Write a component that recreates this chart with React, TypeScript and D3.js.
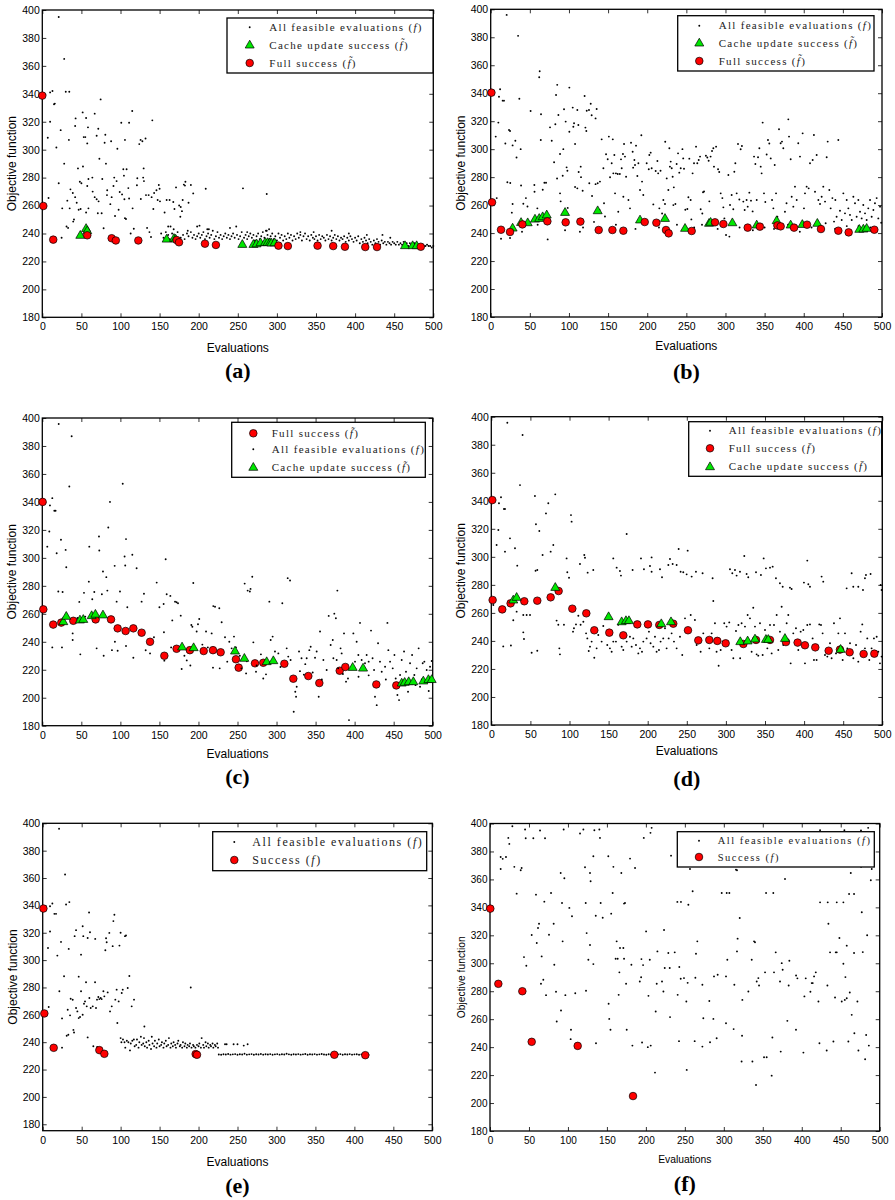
import React, { useEffect, useRef } from 'react';
import * as d3 from 'd3';

type Pt = [number, number];

const xTicks = [0, 50, 100, 150, 200, 250, 300, 350, 400, 450, 500];
const yTicks = [180, 200, 220, 240, 260, 280, 300, 320, 340, 360, 380, 400];

// ---- panel (a) ----
const aDots: Pt[] = [
  [21,395],[28,365],[30,341.5],[34.5,341.5],[10,341],[13,342],[15,332.5],[16,333],[10,320],[7,308.5],[18,301.6],[23.5,314],[34,307],[28,290],[21,276],[8,265.4],[25.5,258],[31,245],[33,244],[35,258],[32,263.5],[36,271.6],[39,269],[40.5,250],[39.5,248.5],[24.7,237],[42,317],[42.6,322.4],[45.6,286.6],[48,277],[50,276],[42,266],[44,262],[46.5,257],[49,257.5],[51.6,326.7],[53,309],[55,309],[56,322.7],[58.4,316],[57.5,304.5],[52,288],[57.5,274],[59,279],[59,258],[56,255],[67,325.8],[69.5,310],[71.6,315],[64,280],[64.4,270],[67,266],[69.5,264.5],[72,263],[71,254.5],[74.6,336],[73,293.5],[76.7,279],[75.9,254.5],[78.4,243.7],[80.6,310.7],[79.7,305],[81.4,290],[88,306],[83,271],[82.7,267.5],[87,261],[88.7,266],[91,274],[92,280],[95,277.5],[93,252.5],[96,300.7],[97.6,257],[99,269.7],[101,319.3],[102,268],[103.6,286],[104.4,281.4],[105.7,307],[107.8,286],[105,264.5],[105.7,251],[107,250.4],[111,319.3],[110,272.5],[111,265],[115,327.7],[115.5,258],[113,240],[117,243.4],[121.5,279.5],[121,274.5],[124,304],[125.7,307],[128,306],[126,264.7],[129.6,286.6],[129,280],[130,277.5],[132,308],[132.6,267.5],[136,267.5],[134,244],[137,241],[139,237.5],[140.7,321],[139.8,266],[142,257.5],[143,269],[146,271],[149,274.7],[150,272],[147.5,264],[150.5,263],[156.4,255],[159,264],[161,245],[162.8,264],[167.5,262.5],[171,273],[169,257.5],[175,260],[177,259],[178.6,256],[176.5,252],[179.5,264],[181,275],[183,277],[182.4,274.3],[187,262],[190,274.7],[193,268.7],[209,272],[201,245.6],[248,245],[256.6,272.3],[287,268.3],
  [152,240],[155,237],[158,241],[161,239],[163,236],[166,240],[170,238],[173,241],[177,237],[180,239],[182,236],[185,240],[187,238],[190,241],[192,237],[194,239],[196,236],[198,238],[200,240],[202,237],[204,239],[206,241],[208,236],[210,238],[212,240],[214,237],[216,239],[218,242],[220,236],[222,238],[224,241],[226,237],[228,239],[230,236],[232,238],[234,240],[236,237],[238,239],[240,236],[242,238],[244,240],[246,237],[249,239],[251,236],[253,238],[255,241],[258,237],[260,239],[262,236],[264,238],[266,240],[268,237],[270,239],[272,235],[274,238],[276,240],[278,236],[280,238],[282,241],[284,237],[286,242],[288,239],[290,236],[292,238],[294,240],[296,236],[298,238],[300,235],[302,240],[304,237],[306,239],[308,235],[310,238],[312,236],[314,240],[316,237],[318,239],[320,235],[322,238],[324,236],[326,240],[328,237],[330,239],[332,235],[334,238],[336,240],[338,236],[340,238],[342,235],[344,239],[346,237],[348,236],[350,238],[352,235],[354,239],[356,236],[358,238],[360,237],[362,235],[364,239],[366,236],[368,238],[370,235],[372,237],[374,239],[376,236],[378,238],[380,235],[382,237],[384,236],[386,238],[388,234],[390,237],[392,235],[394,238],[396,236],[398,234],[400,237],[402,235],[404,238],[406,233],[408,236],[410,234],[412,237],[414,235],[416,233],[418,236],[420,234],[422,232],[424,235],[426,233],[428,236],[430,234],[432,232],[434,235],[436,233],[438,234],[440,232],[442,234],[444,233],[446,232],[448,234],[450,233],[452,232],[454,234],[456,232],[458,233],[460,232],[462,234],[464,232],[466,233],[468,231],[470,233],[472,232],[474,231],[476,233],[478,232],[480,231],[482,232],[484,231],[486,232],[488,231],[490,231],[492,232],[494,231],[496,231],[498,230],[500,231],
  [164,245],[168,243],[186,242],[198,245],[211,243],[213,243],[240,244],[262,241],[287,242],[290,243],[330,241],[347,241],[370,242],[392,240],[415,239],[435,239],[445,237]
];
const aCache: Pt[] = [[48.6,238.7],[56,243.6],[57.5,242],[159,236],[168.4,236.5],[170.5,236],[255.8,232.2],[270,232.2],[274,232.6],[279,233.4],[285,233.6],[288,233.5],[291,233.4],[293,233.2],[297,233.4],[463.8,231.3],[473.6,231.3],[478.7,231.3]];
const aFull: Pt[] = [[0,338.7],[1.3,259.7],[14,235.6],[57.5,238.7],[88.7,236.6],[94,235],[122.8,235],[171.8,235.3],[174.8,233.7],[208,232.7],[222,231.8],[302,231.3],[314,231],[352,231.3],[372,231],[387,230.5],[413,230.3],[428,230.3],[484,230.5]];

// ---- panel (b) ----
const bDots: Pt[] = [
  [20.4,396],[35,381],[12,342.8],[10.6,337.5],[15.3,334.7],[17,334.7],[36.6,336],[9.8,319],[6.4,309],[18.7,304],[23.4,313.7],[24.7,313],[31.5,306],[28,302.7],[33,294],[38.3,300],[38.8,274],[21.3,276.3],[25,275.8],[7.7,265],[27,254.6],[28,260.8],[13.2,236],[24.7,236.5],[41.7,261],[45,265],[47,259],[51,327.3],[56,269.6],[55.8,274.4],[59.6,257.7],[62.6,355.7],[62,351.4],[64.3,325],[64,306.6],[68.6,276],[70.7,276],[66.5,271],[72.8,235.5],[75.8,315.6],[78,306],[81,290.6],[82.6,317.8],[83.5,338.7],[85,346],[86.5,324.4],[88.6,296.5],[84.8,279],[88.6,268.4],[89.4,262.7],[92,281],[93.7,328.5],[92.8,300],[95.8,319.7],[97,287],[98,284.6],[95,242],[98.4,258],[100.5,344],[100.5,312.5],[104.8,329.7],[107.8,303.7],[106.5,318.5],[105.6,316],[110.7,328],[112,317.3],[107.8,273],[110.7,272],[115,287.5],[112.4,283.7],[115.4,280],[117.5,270.3],[114,241],[120,338],[121,315.4],[122.2,313],[122.7,327.5],[125.6,328],[127.8,332.5],[129,324.2],[126,275.6],[129.5,266.5],[134,322],[135.4,328.7],[134,275],[136.7,275.6],[139,256.5],[139.6,276.8],[141.8,307],[144,286.3],[144.8,261.3],[146,251.9],[147.4,296.4],[149.5,292.8],[151,309],[152.5,279.9],[154.6,289.9],[156,307],[156.7,282.7],[160,282.7],[158,295.8],[158.9,268.4],[162.3,282.2],[163,255.3],[165,282.2],[166.5,292.7],[167.4,286.3],[169,296.5],[169.5,266],[170.4,303.7],[171.6,294.7],[173,280.3],[176,263.6],[178,257.7],[179.3,304.6],[181.4,298.2],[182,286.8],[183.6,292.3],[185.7,302.5],[184.4,288.7],[187.4,280.8],[188.7,289.9],[190.8,270.8],[192.5,310],[193.4,276.8],[195,267.2],[199.3,289.9],[202.7,295.8],[204.4,297.5],[202,285.6],[205.7,286.3],[207.8,260.5],[210.8,284.4],[213,291.5],[214,282.7],[215.5,257.7],[217,284.6],[219,254],[220.6,263.6],[223,305.3],[222.7,260.8],[224.9,279.1],[227,270.8],[228.3,300.6],[229,287.5],[230,291.1],[231.3,286.3],[232.5,280.3],[233.4,260],[234,272.7],[236,260.8],[237.6,289.4],[239.4,297],[241,283.2],[242.8,286.3],[245,300],[246,293.4],[247,286],[248.7,256.7],[251.3,257.2],[252.6,265.6],[253.8,293.2],[255.5,263.6],[256.4,249.8],[258,282.7],[259.8,289.9],[262.4,301.8],[264,289.9],[265.8,292.3],[267.5,294.7],[268.3,257],[270.4,254],[271.3,269.2],[272.6,269.7],[275,295.3],[276.8,294],[278.5,291.7],[279.4,262.7],[281,294.7],[282.8,298.7],[284.5,300.6],[285.3,287.5],[288,301.8],[290.5,285.6],[292,283.7],[293.9,268.4],[296,265],[297.3,258.4],[298.6,250.5],[300.7,238.6],[303.7,281.5],[305.8,260.1],[307.9,267.2],[310,257],[311.3,283.9],[312.6,289.9],[314.3,268.4],[316,303.7],[317.7,264],[319.4,299.9],[321,302.3],[322.8,262.5],[324.5,256.5],[327,263.6],[328.4,258.9],[330.5,268.9],[332.6,263.2],[334.7,255.5],[336.5,294.7],[338.2,289.4],[339.9,263.6],[341.6,294.2],[343.3,300.6],[345,287.5],[346.2,282.7],[347.5,319],[349.2,268.4],[350.9,262.2],[352.6,296.2],[354.3,306.5],[356,304],[357.8,293.4],[359.5,263.6],[361.2,257.7],[362.9,288.7],[364.6,268.4],[366.3,251.7],[368.4,314.2],[370.5,304.2],[372.2,305.4],[373.9,300.6],[376,255.3],[378,261.3],[380.3,321.3],[381.2,309],[383.3,292.8],[384.6,266],[386.7,258.9],[388.8,273.2],[391,263.6],[393,304.2],[395.2,294.7],[398.6,311.3],[400.3,257.7],[401.6,268.4],[403.7,273.2],[406.3,272],[408,289.9],[411.4,292.3],[413,310.1],[414.4,269.6],[416.5,295.8],[418.7,263.6],[420.8,260.8],[422.9,266],[425,273.2],[427.2,262.5],[429.3,294.2],[430.6,305.4],[432.7,270.8],[434.4,257.7],[436.6,265],[438.7,248.2],[440.4,263.6],[442,251.7],[444.2,306.5],[446.3,256],[448.5,249.3],[450.6,268.4],[452.7,254.1],[454.9,263.6],[457,257.7],[459.1,253],[461.3,249.3],[463.4,266],[465.5,261.3],[467.6,251.7],[469.8,263.6],[471.9,255.3],[474,250.5],[476.1,260.1],[478.3,254.1],[480.4,249.3],[482.5,257.7],[484.7,263.6],[486.8,251.7],[489,256.5],[491,261.3],[493.2,265],[495.3,250.5],[497.5,258.9],[499,247.4],
  [40,241],[60,246],[118,244],[132,248],[160,246],[185,243],[215,244],[238,246],[260,244],[270,246],[290,243],[305,237.5],[318,244],[335,242],[350,244],[362,243],[380,246],[395,241],[410,244],[428,247],[440,243],[455,245],[470,245],[485,244]
];
const bCache: Pt[] = [[28,243.6],[38.8,247.6],[47.3,247.4],[56.6,250],[62,250.5],[66.4,251.7],[71.6,253],[95,254.8],[136.7,256],[190.8,249.4],[222.7,250.5],[248.3,243.4],[279,247],[281,247.7],[308.8,247.4],[339.9,245.8],[365.4,248.9],[383.3,245.8],[398.2,246.2],[417.4,247],[471,242.7],[476.2,242.9],[480.4,243.4]];
const bFull: Pt[] = [[0.9,340.4],[1.7,262],[13.2,242.4],[24.7,240.8],[40.5,246.2],[72.4,248.4],[95.8,247.7],[114.6,248.2],[138,242.2],[155.5,242.2],[169.5,241.7],[196.8,247.9],[211.7,247.4],[224,242.2],[227.4,239.8],[256.8,241.5],[286.6,247.7],[297.3,246.5],[328.4,243.9],[344,244.6],[366.3,245.5],[370.5,244.8],[387.6,243.9],[404.2,246],[422,242.9],[444.2,241.7],[457.4,240.5],[490.2,242.4]];

// ---- panel (c) ----
const cDots: Pt[] = [
  [21,395.7],[37.6,386.9],[34.6,351],[12.8,342.7],[9.8,337.5],[15.4,333.7],[17,333.7],[86.7,340],[9,318.9],[23.9,312.9],[72.6,315.3],[29.9,305.7],[73,305.3],[60.2,308],[6.4,308],[18.4,303.3],[30.7,293.3],[92.7,294.3],[84.5,321.7],[103,353],[107.2,313.4],[105.4,301],[106.2,294.5],[115.3,302.2],[120.8,292.6],[77.7,290.2],[82,286.2],[59.6,283],[20.5,276],[26,275.6],[66.6,275.6],[76.3,274],[83.3,276.6],[53.4,275],[47.4,268.5],[64,270.4],[95.2,268.7],[99.5,276],[108.9,264.7],[127.2,268.7],[130.2,274.3],[146.5,282.3],[150,264.7],[155.4,267],[158,299],[159.3,274],[164,272.8],[166.5,255.3],[170,268.7],[172,268.3],[173.8,267.5],[177.3,258.7],[193.4,282],[190.9,252],[192.2,250.8],[199.4,252.5],[201,256.3],[197.7,247.3],[209.7,247.3],[216.9,246],[219,265.5],[221.2,265],[226.7,264],[229.7,254],[234,243.2],[239.5,240],[245.5,243.7],[242.5,235.3],[259.2,281.6],[263,276.6],[265.8,276],[266.7,277.8],[268.9,286.5],[270.3,239.6],[273.7,218.6],[283,213.8],[286.5,216.7],[290.8,268.7],[292.5,241.3],[295,243.7],[298,233],[302.3,231.7],[307.4,267.5],[313,235.3],[314.3,285.5],[317.3,283.8],[315,229.4],[318,227],[322,190],[324,204.3],[325,200.7],[325.8,207.9],[328.8,233],[332,228.2],[335,216.5],[336.8,224],[338.6,228.2],[342,234],[343.7,236.5],[346.3,218],[349.3,228.6],[351.4,233],[354,200.7],[355.7,247.3],[360,227],[364.2,219.8],[366.8,258.5],[369.3,237.7],[372,241.3],[374,260.1],[376,256.8],[377.9,276.6],[372.8,228.2],[377,227],[379,221],[382,235.3],[383.4,231.7],[386.4,246],[389,211.5],[391.5,213.8],[392.8,184],[395,221],[398.4,246],[400.5,225.8],[402.6,240],[404.8,230.5],[406.9,253.5],[409,227],[413.3,224.6],[415.4,230.5],[418,225.8],[421,248],[423,228.2],[424.9,219.8],[426.1,200.7],[428.3,194.7],[430,239],[432.5,225.8],[434.7,218.6],[439,222.2],[442,253.5],[443.2,234],[445.4,225.8],[448.8,221],[451,230.5],[452.6,213.8],[454.8,201.9],[456.9,198.3],[458.2,216.2],[460.3,227],[463.3,233],[465.8,218.6],[468.4,204.3],[471,224.6],[473.6,230.5],[476.5,216.2],[479.5,221],[482,235.3],[483.8,207.9],[487.2,224.6],[489.3,225.8],[492.3,219.8],[494.9,204.8],[496.6,222.2],[498.7,226.3],
  [12.8,236],[25.2,236],[48.7,231],[38.9,241.3],[38.9,246],[69.6,235.3],[78.6,230],[89.2,234],[96.5,233.6],[93,240],[116.6,228.6],[107.2,237],[138,231.7],[132.4,233.9],[143,243.2],[155.8,246.8],[156.3,226.5],[178.5,220.5],[185,226.7],[189.6,223],[218.6,221.5],[227.2,221],[236.9,225.8],[255,221],[261,217.4],[274.5,223],
  [45,257],[55,258],[165,236],[182,230],[205,238],[212,236],[248,236],[253,230],[262,226],[280,231],[305,222],[330,219],[358,213],[385,217],[405,215],[418,216],[440,213],[462,209],[478,209],[486,213]
];
const cCache: Pt[] = [[26.9,254.4],[30.7,258.2],[48.2,255.6],[52.5,256],[63.2,258.7],[68,259.7],[77.7,259.2],[179,236.3],[193.8,235.8],[246.8,233.4],[258.8,228.2],[287.4,225.8],[295.9,226.5],[397.5,221.7],[410.8,221.2],[460.3,210.5],[464.1,211],[469.3,211.5],[475.2,211.5],[488,212],[494.5,213],[498.7,213]];
const cFull: Pt[] = [[0.4,340],[1.3,263.2],[14,252.3],[24.3,253.7],[39.7,255],[68.3,256],[88,256],[96.5,249.6],[106.7,247.7],[116.6,249.6],[127.2,246.5],[138,240],[156.3,230],[172,235],[189,234],[206.7,233.4],[218.6,234],[228.4,232.5],[248,227.5],[251.5,221.5],[272.4,224.6],[283,225],[310,224.3],[321.5,213.6],[340.7,215.5],[354.8,210.5],[380.9,219.3],[388.1,222],[427.8,209.5],[453.4,208.8]];

// ---- panel (d) ----
const dDots: Pt[] = [
  [20.5,395.7],[40,386.9],[36.7,351.2],[55.8,343.4],[12.4,342.5],[9.8,338.2],[16.2,334.1],[17.5,334.1],[81.8,344.6],[72.9,338.2],[69.9,331],[9,319.1],[57.1,323.2],[61.4,318.4],[23.9,313.2],[79.3,308.4],[30.3,306.1],[75.9,303.7],[6.8,308.4],[17.5,303.7],[33.2,293.7],[65.6,301.3],[101.9,329.8],[102.7,325.1],[173.1,316.3],[96.3,298.9],[118.9,301.3],[119.8,299.4],[113.4,294.9],[156,298.9],[191.4,298.9],[205,299.6],[228.5,298.5],[239.6,305.6],[251.1,304.4],[323.5,300.6],[348.3,298.9],[404.1,297.3],[58.8,290.6],[56.6,290.1],[97.2,289],[99.4,285.1],[123.2,288.7],[130.4,290.6],[160.3,292.3],[164.5,289.9],[165.8,286.6],[180.7,290.6],[195.2,291.1],[202.9,293.5],[205,289.4],[215.7,291.1],[218.3,285.4],[226.4,294.2],[231.9,294.9],[237,294.2],[242.1,289.4],[245.5,289],[249.8,287.5],[256.2,285.9],[261.7,289.4],[270.2,288.3],[283,284.7],[305.2,291.1],[308.2,288.3],[311.6,290.6],[313.7,286.6],[318,289.4],[326.5,287.7],[328.6,285.4],[338.5,289],[344.8,287],[351.2,291.8],[356.4,292.3],[359.8,293],[364,284.7],[369.1,281.1],[372.6,278.7],[381.9,278],[384,277],[399.8,281.6],[405.4,280.4],[407.5,278.7],[422.4,285.9],[424.5,282.3],[454.4,277.5],[460.8,288.3],[462.9,278.7],[469.3,278.7],[477.8,284.7],[479.1,287],[485,287.7],[475.3,276.3],[497.9,279.9],[499.1,276.3],
  [2.6,265.6],[15.3,236.1],[25.1,236.7],[28.1,254.7],[32.4,260.9],[40.9,258.5],[40.9,246.1],[41.8,241.4],[45.2,258.5],[49.5,258.5],[51.6,231.6],[58.8,233],[83.5,254.5],[85.7,251.5],[87.8,230.4],[87,234.7],[92.9,251.5],[104.5,246.6],[105.7,249],[108.3,251.8],[111.3,258],[114.2,251.5],[117.7,253.7],[121.2,245.4],[122.8,241.8],[124.6,232.8],[126.2,235.9],[128.3,239.5],[131.7,228],[134.7,234.7],[136.8,244.2],[141.1,239.5],[143.2,250.6],[146.6,256.1],[148.3,237.1],[151.7,234.7],[153.9,232.3],[156,239.5],[159.4,239.5],[162.4,251.5],[166.7,235.9],[168.8,233.5],[173.1,239.5],[177.3,243],[179.5,235.9],[181.6,241.8],[185,237.1],[188,231.1],[190.1,234.7],[192.7,232.3],[194.4,239.5],[198.6,241.8],[201.6,246.6],[203.7,238.3],[207.2,235.9],[209.3,243],[211.4,232.3],[214.4,233.5],[216.5,239.5],[219.9,241.8],[222.1,249],[224.2,234.7],[226.8,241.8],[230.6,245.4],[233.6,239.5],[237,234.7],[241.3,243],[244.2,229.9],[247.7,256.1],[255,258.5],[260.4,254.9],[262.6,237.1],[267.7,232.3],[271.1,245.4],[275.4,241.8],[278.8,234.7],[281.8,245.4],[283.9,268.5],[286,252.6],[288.1,232.3],[290.7,222.3],[293.3,233.5],[295.8,239.5],[297.9,252.6],[300.9,250.2],[304.3,253.2],[307.3,233.5],[309.5,227.6],[312.9,247.1],[316,251.4],[318.2,227.6],[320.1,252.6],[324.4,250.2],[327.8,258.5],[330.8,256.1],[332.9,232.3],[335,263.7],[337.2,250.2],[339.3,230.4],[341.4,229.5],[343.6,252.6],[347,229.9],[350,247.8],[353,234.7],[356.4,251.4],[358.5,231.1],[361.5,251.4],[364.9,258.5],[367,233.5],[369.1,246.6],[371.3,264.4],[373.4,237.1],[377.7,252.6],[379.8,258.5],[382.8,224],[386.2,245.4],[389.6,249],[392.6,233.5],[395.6,246.6],[399,247.8],[401.1,224],[404.1,251.4],[407.5,251.8],[410.9,241.8],[412.6,226.4],[416,226.4],[419.4,251.8],[421.6,251.4],[423.7,245.4],[426.7,229.9],[429.7,228.8],[433.1,238.3],[435.2,227.6],[438.2,252.6],[440.8,231.1],[443.8,245.4],[445.9,256.1],[449.3,226.4],[452.3,245.4],[455.3,234.7],[458.7,238.3],[463,227.6],[466.4,237.1],[469.3,225.2],[472.3,246.6],[474.4,251.8],[477.8,234.7],[480.8,241.8],[483.4,226.4],[486.3,234.7],[489.3,241.8],[492.8,243],[494.9,232.3],[497,224],[499.1,228.8]
];
const dCache: Pt[] = [[28.1,269.2],[32.4,271.1],[81.8,278.2],[150,257.3],[166.7,253.7],[172.2,254.5],[176,254.5],[217.4,252.3],[229.8,253.7],[318.4,239.5],[327.8,240],[337.2,241.4],[351.2,241.1],[354.2,241.1],[375.5,241.8],[446.7,234]];
const dFull: Pt[] = [[1.3,340.5],[1.7,269.2],[14,262.5],[24.7,266.8],[42.2,268.3],[58.8,268.7],[75.9,271.1],[86.1,275.6],[103.6,263],[121.5,259.7],[131.7,247.6],[150.9,245.9],[168.8,244],[186.7,251.8],[200.3,251.8],[214.8,251.4],[232.7,252.3],[251.5,247.6],[264.7,240.4],[278.8,240.7],[289,240],[299.7,238.3],[322.3,237.8],[338.5,240.7],[356.4,240.7],[376.8,239.2],[391.7,238.8],[401.1,236.9],[414.3,235.4],[431.4,233],[445.9,233.8],[458.2,231.9],[476.1,230.7],[489.8,230.9]];

// ---- panel (e) ----
const eDots: Pt[] = [
  [21,396],[28.7,362.6],[30,340.7],[34.2,342.4],[12.4,341.4],[9.4,339.4],[15,333.8],[17.1,333.8],[59.5,334.8],[9.4,320.9],[23.5,313.3],[42.8,321.9],[41,317.5],[51.3,324.8],[52.1,317.5],[57.7,316.2],[60.7,320.4],[67.4,315.5],[6.8,308.9],[18.8,303.3],[33.4,308.2],[49.2,304],[27.4,288.2],[46.2,287.9],[21.4,277.2],[7.7,265.7],[24.8,257.4],[32.1,263.7],[35.1,259.6],[35.9,271.8],[38.5,271],[40.2,247.1],[39.4,249],[30.8,244.7],[32.9,245.4],[42.8,265],[44.5,262.5],[46.2,257.6],[47.9,258.4],[49.2,277.2],[51.3,260.1],[53,268.1],[54.3,269.8],[56.5,266.2],[55.6,283.8],[57.7,243.5],[59.9,272.3],[61.6,265],[64.2,266.2],[67.2,283.8],[68.4,265],[69.7,271.1],[71.4,273],[72.7,271.5],[74.4,272.3],[75.7,271.5],[77.9,277.2],[79.1,273.5],[80.4,307.2],[81.3,316],[82.1,313.1],[83.4,276.4],[85.5,319.9],[86.4,262.5],[88.6,266.2],[89.8,310.2],[90.7,328.5],[92,333.1],[93.2,271.1],[94.9,278.4],[95.8,254],[97.5,269.8],[98.5,310.6],[100,320],[101.4,276],[102.7,278.4],[105.6,317.5],[106.9,318],[109.1,279.6],[111.2,288.4],[114.2,266.2],[117.2,271.1],[130.5,251.5],[24.8,236],[65,237],[70,236.5],[74,235.5],[190,280],
  [100,243],[101,240],[103,242],[105,240],[106,236],[108,241],[110,240],[112,234],[113,239],[115,241],[117,242],[118,237],[120,238],[121,242],[123,236],[124,240],[126,244],[127,238],[129,239],[130,243],[131,237],[133,240],[134,236],[136,241],[137,238],[139,235],[140,244],[141,239],[143,237],[144,241],[146,236],[147,239],[149,242],[150,237],[152,238],[153,240],[155,236],[156,239],[158,241],[159,237],[161,238],[162,243],[164,236],[165,239],[167,237],[168,240],[170,238],[171,236],[173,239],[174,241],[176,237],[177,238],[179,236],[180,240],[182,237],[183,239],[185,236],[186,238],[188,237],[189,239],[191,236],[193,238],[194,237],[196,236],[198,238],[200,237],[201,239],[203,236],[204,243],[206,238],[207,236],[209,240],[210,237],[212,239],[213,236],[215,238],[216,237],[218,239],[219,236],[221,238],[222,237],[224,239],[225,236],[234,238.5],[236,238.5],[245,238.5],[250,238.5],[258,237.5],[263,238.5],
  [226,231],[229,230.8],[232,231.2],[235,231],[238,231.4],[241,230.9],[244,231.1],[247,231.3],[250,230.8],[253,231.2],[256,231],[259,231.5],[262,230.9],[265,231.1],[268,231.3],[271,230.8],[274,231.2],[277,231],[280,231.4],[283,230.9],[286,231.2],[289,231],[292,231.3],[295,230.8],[298,231.1],[301,231.3],[304,230.9],[307,231.2],[310,231],[313,231.5],[316,231.1],[319,230.8],[322,231.2],[325,231],[328,231.3],[331,230.9],[334,231.1],[337,231.4],[340,230.8],[343,231.2],[346,231],[349,231.3],[352,230.9],[355,231.1],[358,231.4],[361,231],[364,230.8],[367,231.2],[370,231],[373,231.3],[376,230.9],[379,231.1],[382,231.3],[385,230.8],[388,231.2],[391,231],[394,231.3],[397,230.9],[400,231.1],[403,231.2],[406,230.8],[409,231.1],[412,231],[415,231.2],[418,230.9]
];
const eFull: Pt[] = [[0.9,337.7],[2.1,261],[14.1,235.9],[72.7,234.2],[79.1,231.5],[196.3,231.3],[198,230.8],[374.3,230.8],[414,230.5]];

// ---- panel (f) ----
const fDots: Pt[] = [
  [28.7,398],[23.5,389.7],[24.8,385.4],[13.7,376],[16.3,374.7],[20.5,376],[13.7,367.5],[31.2,369],[39.4,366.6],[40.6,368.2],[34.2,349.8],[45,395.7],[45.8,389.5],[55.6,389.5],[64.2,395],[70.6,389.5],[78.3,350.3],[69.7,344.1],[59,349.1],[53.5,320.2],[62.9,328.3],[61.6,325.2],[60,314.5],[43.6,304.4],[46.6,298.2],[66.3,304.9],[68.4,288.2],[65.4,285.3],[71.9,277.2],[75.7,320.4],[81.7,328.3],[82.5,298.9],[84.7,279.6],[85.6,258.3],[90.7,364.6],[95.4,360.8],[94.5,395.7],[92.4,343.1],[93.2,315.7],[91.1,266.2],[96.7,277.2],[101.8,339.6],[105.2,333.6],[103.9,252.4],[103.5,245.7],[109.4,278.6],[115.5,392.8],[119.8,395.7],[121.9,368.7],[122.8,343.1],[124,321.6],[123.2,280.3],[126.2,302.5],[128.3,364.6],[128.3,313.1],[129.1,358.7],[132.6,299.4],[133.9,395.2],[132.6,376.6],[135.7,334],[136,242.8],[141.1,389.7],[140.3,395.7],[142,343.1],[144.6,332.6],[151.8,376.6],[152.2,271],[153,260.2],[154.6,252.4],[155.5,335.5],[157.4,350.3],[158.3,369],[162.5,315.7],[161.2,303.2],[163.8,303.2],[165.1,277.4],[166,293.5],[166.8,310.9],[168.5,364.6],[171.1,310.9],[172,342.7],[173.2,343.1],[172,303.2],[174.6,285.3],[175.4,252.4],[179.7,374.9],[181.4,298.9],[182.7,241.1],[186.1,368.2],[192.2,287],[193.9,290],[194.3,303],[196.4,298.7],[195.1,243.3],[197.3,389.7],[200.3,322.8],[202.5,240],[203.3,276.7],[205,302.5],[205.9,393.3],[207.4,396.9],[206.2,241.1],[211.7,221.8],[212.6,265.5],[213.9,285.3],[214.8,308.5],[220.7,287],[222.5,279.8],[223.3,323.8],[224.2,296.6],[228.8,307.4],[230.6,296.6],[231,261.5],[232.3,377],[237,307.8],[240.8,277.4],[240.4,343.9],[242.9,297.3],[244.7,288.9],[245,343.9],[242.5,244.3],[248.9,289.4],[251.9,272.7],[252.4,223.7],[253.6,286],[254.5,341.9],[256.6,367.5],[257.9,370.6],[260,351.5],[262.6,244.3],[263.5,289.6],[264.3,306.8],[266,315.7],[272.5,284.6],[273.7,260.7],[272.5,240.4],[281.4,273],[282.3,243.5],[286.6,260.2],[287.4,290.6],[290.8,246.4],[292.1,291.8],[297.3,350.3],[302.8,290.6],[302.8,257.1],[303.7,350.3],[307.1,350.3],[304.5,302.5],[312.6,252.9],[313.5,284.6],[315.6,367],[316.9,366.6],[316.9,308.5],[317.7,317.6],[320.4,332.4],[322.8,229.7],[323.4,248.1],[323.8,273.8],[331.5,279.8],[335.8,302.5],[336.7,229.7],[338.8,315.7],[340,315],[341.3,212.9],[342.2,287],[344.3,289.4],[345.2,284.1],[352.9,293.5],[354.2,350.3],[351.6,232.8],[355,232.8],[361.4,219.6],[362.3,246.9],[363.5,350.3],[364.4,293.5],[366.6,307.8],[372.1,287],[373,236.8],[374.3,300.1],[375.5,295.4],[378.5,360.3],[381.5,258.8],[383.2,284.1],[384.1,301.8],[392.6,252.4],[392.7,291.3],[394.4,289.2],[402.1,236.1],[403.4,276.3],[405.1,289.2],[411.1,279.6],[412.8,285.8],[414.1,285.8],[415.8,290.6],[418,293.5],[421.4,272.7],[422.7,242.8],[423.5,343.6],[432,237.6],[432.9,284.1],[433.3,343.6],[434.2,328.3],[436.3,307.8],[440.6,244],[442.7,275.5],[443.6,307.8],[444.9,307.8],[444.9,343.6],[448.3,318.1],[451.3,272.7],[453.4,343.6],[453.4,299.7],[455.2,273.8],[456,290.1],[457.7,275],[457.7,312.6],[459.8,244],[460.7,349.6],[461.6,279.1],[462.9,364.6],[464.1,263.1],[467.1,349.6],[467.5,249.9],[467.1,307.3],[471.4,272.7],[472.7,237.6],[476.1,369],[477,336.5],[478.3,308],[481.3,231.3],[482.6,248.7],[483.9,320],[486.1,241.1],[485.2,396.9],[488.6,359.4],[489.8,367.5],
  [423.5,395.2],[440,392],[454.7,395.2],[476,395]
];
const fFull: Pt[] = [[0.4,339.1],[10.7,285.3],[41.5,280],[53.5,243.8],[112.5,240.9],[183.5,205]];

const SANS = '"Liberation Sans", Arial, Helvetica, sans-serif';
const SERIF = '"Liberation Serif", "Times New Roman", serif';
const RED = '#ff0000';
const GREEN = '#00e800';

type Kind = 'dots' | 'cache' | 'full';
interface LegendItem { kind: Kind; label: string; sym: string }
interface Panel {
  id: string;
  box: [number, number, number, number];
  yMin: number;
  dots: Pt[];
  cache: Pt[];
  full: Pt[];
  order: Kind[];
  tickFont: number;
  axisFont: number;
  yLabelX: number;
  evalY: number;
  tagY: number;
  legendBox: [number, number, number, number];
  legendRows: number[];
  legendMarkX: number;
  legendTextX: number;
  legendFont: number;
  legendSpacing: number;
  legend: LegendItem[];
}

const TILDE = 'f\u0303';
const BAR = 'f\u0304';

const panels: Panel[] = [
  {
    id: 'a', box: [42.3, 10, 433.3, 317.3], yMin: 180, dots: aDots, cache: aCache, full: aFull,
    order: ['dots', 'cache', 'full'], tickFont: 10.5, axisFont: 12, yLabelX: 12, evalY: 351.5, tagY: 378,
    legendBox: [227, 18, 433, 73], legendRows: [27.3, 45, 63], legendMarkX: 249.7, legendTextX: 269.3,
    legendFont: 11, legendSpacing: 1.3,
    legend: [
      { kind: 'dots', label: 'All feasible evaluations', sym: 'f' },
      { kind: 'cache', label: 'Cache update success', sym: TILDE },
      { kind: 'full', label: 'Full success', sym: TILDE },
    ],
  },
  {
    id: 'b', box: [490.7, 9.3, 882, 317], yMin: 180, dots: bDots, cache: bCache, full: bFull,
    order: ['dots', 'cache', 'full'], tickFont: 10.5, axisFont: 12, yLabelX: 461, evalY: 349.5, tagY: 379,
    legendBox: [677.7, 15.7, 874, 71], legendRows: [25.7, 43, 61], legendMarkX: 699.3, legendTextX: 718.7,
    legendFont: 11, legendSpacing: 1.3,
    legend: [
      { kind: 'dots', label: 'All feasible evaluations', sym: 'f' },
      { kind: 'cache', label: 'Cache update success', sym: TILDE },
      { kind: 'full', label: 'Full success', sym: TILDE },
    ],
  },
  {
    id: 'c', box: [42.3, 418, 432.7, 725.7], yMin: 180, dots: cDots, cache: cCache, full: cFull,
    order: ['full', 'dots', 'cache'], tickFont: 10.5, axisFont: 12, yLabelX: 12, evalY: 757.5, tagY: 784,
    legendBox: [231.7, 422.3, 425.3, 477.3], legendRows: [433.3, 449.3, 467.3], legendMarkX: 253.3, legendTextX: 271.7,
    legendFont: 11, legendSpacing: 1.3,
    legend: [
      { kind: 'full', label: 'Full success', sym: TILDE },
      { kind: 'dots', label: 'All feasible evaluations', sym: 'f' },
      { kind: 'cache', label: 'Cache update success', sym: TILDE },
    ],
  },
  {
    id: 'd', box: [491.3, 416.7, 882.3, 725], yMin: 180, dots: dDots, cache: dCache, full: dFull,
    order: ['dots', 'full', 'cache'], tickFont: 10.5, axisFont: 12, yLabelX: 461, evalY: 755, tagY: 786,
    legendBox: [688.7, 421.7, 881.7, 476.3], legendRows: [430.7, 448.3, 466.7], legendMarkX: 710, legendTextX: 728.7,
    legendFont: 11, legendSpacing: 1.3,
    legend: [
      { kind: 'dots', label: 'All feasible evaluations', sym: 'f' },
      { kind: 'full', label: 'Full success', sym: BAR },
      { kind: 'cache', label: 'Cache update success', sym: BAR },
    ],
  },
  {
    id: 'e', box: [42.7, 823.3, 432.3, 1130.7], yMin: 175.3, dots: eDots, cache: [], full: eFull,
    order: ['dots', 'full'], tickFont: 10.5, axisFont: 12, yLabelX: 12.5, evalY: 1165.5, tagY: 1193,
    legendBox: [212.7, 831.7, 426.7, 870.7], legendRows: [842, 860], legendMarkX: 234.3, legendTextX: 252.3,
    legendFont: 12, legendSpacing: 1.55,
    legend: [
      { kind: 'dots', label: 'All feasible evaluations', sym: 'f' },
      { kind: 'full', label: 'Success', sym: 'f' },
    ],
  },
  {
    id: 'f', box: [490, 823.5, 879.7, 1131], yMin: 180, dots: fDots, cache: [], full: fFull,
    order: ['dots', 'full'], tickFont: 10, axisFont: 10.3, yLabelX: 461.5, evalY: 1162.5, tagY: 1191,
    legendBox: [677.3, 831.7, 874.3, 867], legendRows: [840.7, 857], legendMarkX: 699, legendTextX: 717.7,
    legendFont: 10.5, legendSpacing: 1.5,
    legend: [
      { kind: 'dots', label: 'All feasible evaluations', sym: 'f' },
      { kind: 'full', label: 'Success', sym: 'f' },
    ],
  },
];

const tri = (cx: number, cy: number) =>
  `M${cx},${cy - 4.8}L${cx + 4.5},${cy + 3}L${cx - 4.5},${cy + 3}Z`;

function drawMarks(g: any, kind: Kind, pts: Pt[], x: any, y: any) {
  if (kind === 'dots') {
    g.append('g').selectAll('circle').data(pts).enter().append('circle')
      .attr('cx', (d: Pt) => x(d[0])).attr('cy', (d: Pt) => y(d[1]))
      .attr('r', 0.95).attr('fill', '#000');
  } else if (kind === 'cache') {
    g.append('g').selectAll('path').data(pts).enter().append('path')
      .attr('d', (d: Pt) => tri(x(d[0]), y(d[1])))
      .attr('fill', GREEN).attr('stroke', '#000').attr('stroke-width', 0.7);
  } else {
    g.append('g').selectAll('circle').data(pts).enter().append('circle')
      .attr('cx', (d: Pt) => x(d[0])).attr('cy', (d: Pt) => y(d[1]))
      .attr('r', 3.8).attr('fill', RED).attr('stroke', '#000').attr('stroke-width', 0.7);
  }
}

function drawPanel(root: any, p: Panel) {
  const [x0, y0, x1, y1] = p.box;
  const x = d3.scaleLinear().domain([0, 500]).range([x0, x1]);
  const y = d3.scaleLinear().domain([p.yMin, 400]).range([y1, y0]);
  const g = root.append('g');

  const style = (sel: any) => {
    sel.select('.domain').remove();
    sel.selectAll('line').attr('stroke', '#000').attr('stroke-width', 0.8);
    sel.selectAll('text').attr('font-family', SANS).attr('font-size', p.tickFont).attr('fill', '#000');
  };

  g.append('g').attr('transform', `translate(0,${y1})`)
    .call(d3.axisBottom(x).tickValues(xTicks).tickSizeInner(-4).tickSizeOuter(0).tickPadding(5.5)).call(style);
  g.append('g').attr('transform', `translate(0,${y0})`)
    .call(d3.axisTop(x).tickValues(xTicks).tickSizeInner(-4).tickSizeOuter(0).tickFormat(() => '')).call(style);
  g.append('g').attr('transform', `translate(${x0},0)`)
    .call(d3.axisLeft(y).tickValues(yTicks).tickSizeInner(-4).tickSizeOuter(0).tickPadding(2.5)).call(style);
  g.append('g').attr('transform', `translate(${x1},0)`)
    .call(d3.axisRight(y).tickValues(yTicks).tickSizeInner(-4).tickSizeOuter(0).tickFormat(() => '')).call(style);

  g.append('rect').attr('x', x0).attr('y', y0).attr('width', x1 - x0).attr('height', y1 - y0)
    .attr('fill', 'none').attr('stroke', '#000').attr('stroke-width', 1.3);

  const series: Record<Kind, Pt[]> = { dots: p.dots, cache: p.cache, full: p.full };
  p.order.forEach((k) => drawMarks(g, k, series[k], x, y));

  // axis titles
  const cx = (x0 + x1) / 2;
  const cy = (y0 + y1) / 2;
  g.append('text').attr('x', cx).attr('y', p.evalY).attr('text-anchor', 'middle')
    .attr('font-family', SANS).attr('font-size', p.axisFont).text('Evaluations');
  g.append('text').attr('transform', `translate(${p.yLabelX + p.axisFont * 0.36},${cy}) rotate(-90)`)
    .attr('text-anchor', 'middle').attr('font-family', SANS).attr('font-size', p.axisFont)
    .text('Objective function');
  g.append('text').attr('x', cx).attr('y', p.tagY).attr('text-anchor', 'middle')
    .attr('font-family', SERIF).attr('font-weight', 'bold').attr('font-size', 22).text(`(${p.id})`);

  // legend
  const [lx0, ly0, lx1, ly1] = p.legendBox;
  const lg = g.append('g');
  lg.append('rect').attr('x', lx0).attr('y', ly0).attr('width', lx1 - lx0).attr('height', ly1 - ly0)
    .attr('fill', '#fff').attr('stroke', '#000').attr('stroke-width', 1.3);
  p.legend.forEach((item, i) => {
    const ry = p.legendRows[i];
    const mx = p.legendMarkX;
    if (item.kind === 'dots') {
      lg.append('circle').attr('cx', mx).attr('cy', ry).attr('r', 0.95).attr('fill', '#000');
    } else if (item.kind === 'cache') {
      lg.append('path').attr('d', tri(mx, ry)).attr('fill', GREEN).attr('stroke', '#000').attr('stroke-width', 0.7);
    } else {
      lg.append('circle').attr('cx', mx).attr('cy', ry).attr('r', 3.8).attr('fill', RED)
        .attr('stroke', '#000').attr('stroke-width', 0.7);
    }
    const t = lg.append('text').attr('x', p.legendTextX).attr('y', ry + p.legendFont * 0.34)
      .attr('font-family', SERIF).attr('font-size', p.legendFont).attr('letter-spacing', p.legendSpacing)
      .attr('fill', '#222');
    t.append('tspan').text(`${item.label} (`);
    t.append('tspan').attr('font-style', 'italic').text(item.sym);
    t.append('tspan').text(')');
  });
}

export default function App() {
  const ref = useRef<SVGSVGElement>(null);

  useEffect(() => {
    const svg = d3.select(ref.current);
    svg.selectAll('*').remove();
    svg.append('rect').attr('width', 895).attr('height', 1200).attr('fill', '#fff');
    panels.forEach((p) => drawPanel(svg, p));
  }, []);

  return (
    <svg
      ref={ref}
      width={895}
      height={1200}
      style={{ position: 'absolute', left: 0, top: 0, display: 'block' }}
    />
  );
}
